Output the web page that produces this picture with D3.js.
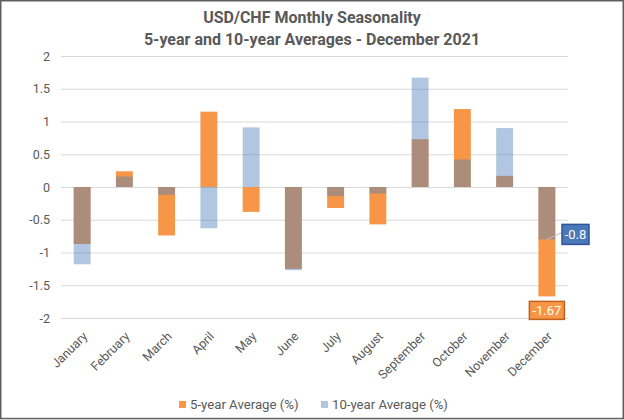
<!DOCTYPE html>
<html><head><meta charset="utf-8">
<script src="https://cdn.jsdelivr.net/npm/d3@7"></script>
<style>
html,body{margin:0;padding:0;background:#fff;}
svg{display:block;}
text{font-family:Roboto,"Liberation Sans",sans-serif;}
</style></head>
<body>
<svg id="chart" width="624" height="420"></svg>
<script>
const months = ["January","February","March","April","May","June","July","August","September","October","November","December"];
const fiveYear = [-0.87, 0.24, -0.74, 1.15, -0.38, -1.25, -0.32, -0.57, 0.73, 1.19, 0.17, -1.67];
const tenYear = [-1.18, 0.16, -0.12, -0.63, 0.91, -1.27, -0.14, -0.10, 1.67, 0.42, 0.90, -0.80];
const yTicks = [-2, -1.5, -1, -0.5, 0, 0.5, 1, 1.5, 2];
const seriesNames = ["5-year Average (%)", "10-year Average (%)"];
const titleLines = ["USD/CHF Monthly Seasonality", "5-year and 10-year Averages - December 2021"];

const W = 624, H = 420;
const svg = d3.select("#chart");
const grey = "#595959";
const orange = "#F79646", blue = "#4F81BD";

svg.append("rect").attr("x",0.75).attr("y",0.75).attr("width",W-1.5).attr("height",H-2.2)
  .attr("fill","#fff").attr("stroke","#5f5f5f").attr("stroke-width",1.5);

const x = d3.scaleBand().domain(months).range([61,568]).paddingInner(0.6).paddingOuter(0.3);
const y = d3.scaleLinear().domain([-2,2]).range([318,56]);

// title
svg.append("g").selectAll("text").data(titleLines).join("text")
  .attr("x",312).attr("y",(d,i)=>23+i*22).attr("text-anchor","middle")
  .attr("font-size",16).attr("font-weight","bold").attr("fill",grey)
  .text(d=>d);

// gridlines
const fmt = v => String(v);
const yAxis = d3.axisLeft(y).tickValues(yTicks).tickSize(-(568-61)).tickFormat(fmt).tickPadding(11);
const gy = svg.append("g").attr("transform","translate(61,0)").call(yAxis);
gy.select(".domain").remove();
gy.selectAll(".tick line").attr("stroke","#d9d9d9").attr("stroke-width",1);
gy.selectAll(".tick text").attr("fill",grey).attr("font-size",12.5).attr("font-family","Roboto");

// bars
const bars = svg.append("g");
bars.selectAll("rect.five").data(months).join("rect").attr("class","five")
  .attr("x",d=>x(d)).attr("width",x.bandwidth())
  .attr("y",(d,i)=>y(Math.max(0,fiveYear[i])))
  .attr("height",(d,i)=>Math.abs(y(fiveYear[i])-y(0)))
  .attr("fill",orange);
bars.selectAll("rect.ten").data(months).join("rect").attr("class","ten")
  .attr("x",d=>x(d)).attr("width",x.bandwidth())
  .attr("y",(d,i)=>y(Math.max(0,tenYear[i])))
  .attr("height",(d,i)=>Math.abs(y(tenYear[i])-y(0)))
  .attr("fill",blue).attr("fill-opacity",0.45);

// x axis labels
const xAxis = d3.axisBottom(x).tickSize(0).tickPadding(0);
const gx = svg.append("g").attr("transform","translate(0,318)").call(xAxis);
gx.select(".domain").remove();
gx.selectAll(".tick text")
  .attr("fill",grey).attr("font-size",12.5).attr("font-family","Roboto")
  .attr("text-anchor","end")
  .attr("transform","translate(3,16) rotate(-45)")
  .attr("dy","0.35em");

// data labels for December
const dec = months.length-1;
const cx = x(months[dec]) + x.bandwidth()/2;
svg.append("line").attr("x1",cx).attr("y1",y(tenYear[dec])).attr("x2",562).attr("y2",y(tenYear[dec])-7)
  .attr("stroke","#bfbfbf").attr("stroke-width",1);
function label(txt, bx, by, w, h, fill, stroke){
  const g = svg.append("g");
  g.append("rect").attr("x",bx).attr("y",by).attr("width",w).attr("height",h)
   .attr("fill",fill).attr("stroke",stroke).attr("stroke-width",1.5);
  g.append("text").attr("x",bx+w/2).attr("y",by+h/2).attr("dy","0.36em")
   .attr("text-anchor","middle").attr("fill","#fff").attr("font-size",13).text(txt);
}
label(String(tenYear[dec]), 562, y(tenYear[dec])-15, 27, 20, "#4a78b8", "#2f5597");
label(String(fiveYear[dec]), cx-17.5, y(fiveYear[dec])+5, 35, 18, orange, "#c0621c");

// legend
const legend = svg.append("g");
const lx = [179, 321];
seriesNames.forEach((s,i)=>{
  legend.append("rect").attr("x",lx[i]).attr("y",401).attr("width",7).attr("height",7)
    .attr("fill", i===0 ? orange : blue).attr("fill-opacity", i===0 ? 1 : 0.45);
  legend.append("text").attr("x",lx[i]+11).attr("y",409).attr("font-size",13.2)
    .attr("fill",grey).text(s);
});
</script>
</body></html>
